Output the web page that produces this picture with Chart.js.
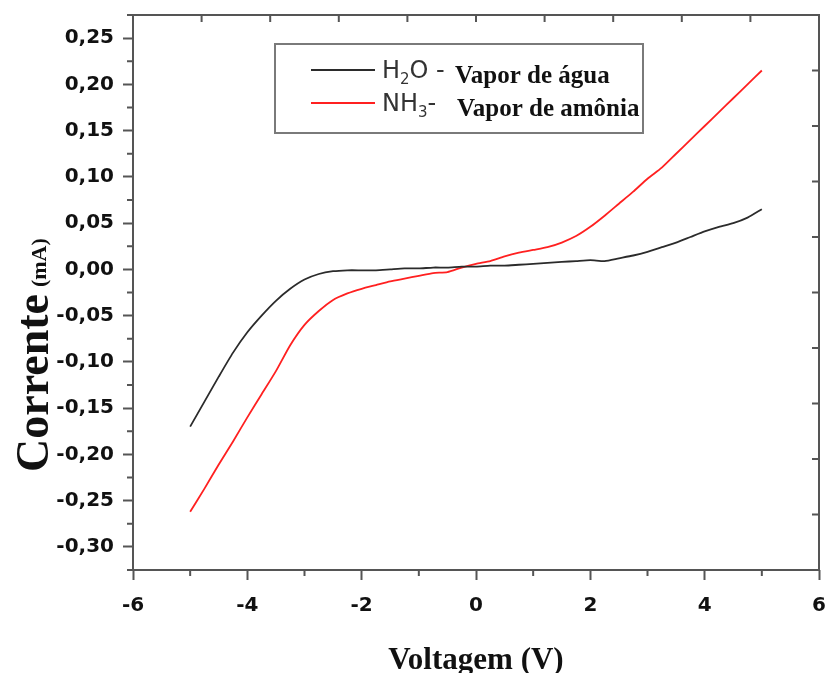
<!DOCTYPE html>
<html lang="pt-BR">
<head>
<meta charset="UTF-8">
<title>Corrente x Voltagem</title>
<script src="https://cdn.jsdelivr.net/npm/chart.js@4.4.1/dist/chart.umd.min.js"></script>
<style>
    html, body { margin: 0; padding: 0; background: #fff; overflow: hidden; }
    .chart-container { position: relative; width: 829px; height: 673px; }
    canvas { display: block; }
</style>
</head>
<body>
<div class="chart-container"><canvas id="ivChart"></canvas></div>
<script>
// voltage steps (V) shared by both curves
const voltage = [-5, -4.75, -4.5, -4.25, -4, -3.75, -3.5, -3.25, -3, -2.75, -2.5, -2.25, -2, -1.75, -1.5, -1.25, -1, -0.75, -0.5, -0.25,
    0, 0.25, 0.5, 0.75, 1, 1.25, 1.5, 1.75, 2, 2.25, 2.5, 2.75, 3, 3.25, 3.5, 3.75, 4, 4.25, 4.5, 4.75, 5];

// current (mA), H2O vapour
const h2oCurrent = [-0.170, -0.143, -0.116, -0.090, -0.068, -0.050, -0.034, -0.021, -0.011, -0.005, -0.002, -0.001, -0.001, -0.001, 0.000, 0.001, 0.001, 0.002, 0.002, 0.003,
    0.003, 0.004, 0.004, 0.005, 0.006, 0.007, 0.008, 0.009, 0.010, 0.009, 0.012, 0.015, 0.019, 0.024, 0.029, 0.035, 0.041, 0.046, 0.050, 0.056, 0.065];

// current (mA), NH3 vapour
const nh3Current = [-0.262, -0.237, -0.211, -0.186, -0.160, -0.135, -0.110, -0.082, -0.060, -0.045, -0.033, -0.026, -0.021, -0.017, -0.013, -0.010, -0.007, -0.004, -0.003, 0.002,
    0.006, 0.009, 0.014, 0.018, 0.021, 0.024, 0.029, 0.036, 0.046, 0.058, 0.071, 0.084, 0.098, 0.110, 0.125, 0.140, 0.155, 0.170, 0.185, 0.200, 0.215];

const xTicks = [-6, -4, -2, 0, 2, 4, 6];
const xMinorTicks = [-5, -3, -1, 1, 3, 5];
const yTicks = [-0.30, -0.25, -0.20, -0.15, -0.10, -0.05, 0.00, 0.05, 0.10, 0.15, 0.20, 0.25];
const yMinorTicks = [-0.325, -0.275, -0.225, -0.175, -0.125, -0.075, -0.025, 0.025, 0.075, 0.125, 0.175, 0.225, 0.275];
// mirrored axes (top / right) carry their own ticks
const topTicks = [-4.8, -3.6, -2.4, -1.2, 0, 1.2, 2.4, 3.6, 4.8];
const rightTicks = [-0.265, -0.205, -0.145, -0.085, -0.025, 0.035, 0.095, 0.155, 0.215];

const AXIS_COLOR = '#555';
const TEXT_COLOR = '#111';
const tickFont = { family: '"DejaVu Sans"', size: 20, weight: 'bold' };

function toPoints(ys) {
    return voltage.map((v, i) => ({ x: v, y: ys[i] }));
}

// frame, minor ticks and mirrored ticks
const framePlugin = {
    id: 'frame',
    afterDraw(chart) {
        const { ctx, chartArea: a, scales } = chart;
        const x = scales.x, y = scales.y;
        ctx.save();
        ctx.strokeStyle = AXIS_COLOR;
        ctx.lineWidth = 2;
        ctx.strokeRect(a.left, a.top, a.right - a.left, a.bottom - a.top);
        ctx.beginPath();
        xMinorTicks.forEach(v => {
            const px = x.getPixelForValue(v);
            ctx.moveTo(px, a.bottom); ctx.lineTo(px, a.bottom + 6);
        });
        yMinorTicks.forEach(v => {
            const py = y.getPixelForValue(v);
            ctx.moveTo(a.left, py); ctx.lineTo(a.left - 6, py);
        });
        topTicks.forEach(v => {
            const px = x.getPixelForValue(v);
            ctx.moveTo(px, a.top); ctx.lineTo(px, a.top + 7);
        });
        rightTicks.forEach(v => {
            const py = y.getPixelForValue(v);
            ctx.moveTo(a.right, py); ctx.lineTo(a.right - 7, py);
        });
        ctx.stroke();
        ctx.restore();
    }
};

// y title with two font sizes: "Corrente (mA)"
const yTitlePlugin = {
    id: 'yTitle',
    afterDraw(chart) {
        const ctx = chart.ctx;
        ctx.save();
        ctx.fillStyle = TEXT_COLOR;
        ctx.translate(48, 472);
        ctx.rotate(-Math.PI / 2);
        ctx.textAlign = 'left';
        ctx.textBaseline = 'alphabetic';
        ctx.font = 'bold 46px "Liberation Serif"';
        ctx.fillText('Corrente', 0, 0);
        const w = ctx.measureText('Corrente').width;
        ctx.font = 'bold 22px "Liberation Serif"';
        ctx.fillText('(mA)', w + 7, -2);
        ctx.restore();
    }
};

// boxed legend with chemical formulas (subscripts)
const legendPlugin = {
    id: 'formulaLegend',
    afterDraw(chart) {
        const ctx = chart.ctx;
        const sets = chart.data.datasets;
        const rows = [
            { base: 'H', sub: '2', rest: 'O -', name: 'Vapor de água', y: 70, tx: 455 },
            { base: 'NH', sub: '3', rest: '-', name: 'Vapor de amônia', y: 103, tx: 457 }
        ];
        ctx.save();
        ctx.fillStyle = '#fff';
        ctx.fillRect(275, 44, 368, 89);
        ctx.strokeStyle = '#7a7a7a';
        ctx.lineWidth = 2;
        ctx.strokeRect(275, 44, 368, 89);
        rows.forEach((r, i) => {
            ctx.strokeStyle = sets[i].borderColor;
            ctx.lineWidth = 2;
            ctx.beginPath();
            ctx.moveTo(311, r.y); ctx.lineTo(375, r.y);
            ctx.stroke();

            let cx = 382;
            const base = r.y + 8;
            ctx.fillStyle = '#333';
            ctx.textBaseline = 'alphabetic';
            ctx.textAlign = 'left';
            ctx.font = '24px "DejaVu Sans"';
            ctx.fillText(r.base, cx, base);
            cx += ctx.measureText(r.base).width;
            ctx.font = '15px "DejaVu Sans"';
            ctx.fillText(r.sub, cx, base + 6);
            cx += ctx.measureText(r.sub).width;
            ctx.font = '24px "DejaVu Sans"';
            ctx.fillText(r.rest, cx, base);

            ctx.fillStyle = TEXT_COLOR;
            ctx.font = 'bold 25px "Liberation Serif"';
            ctx.fillText(r.name, r.tx, r.y + 13);
        });
        ctx.restore();
    }
};

const ctx = document.getElementById('ivChart').getContext('2d');
new Chart(ctx, {
    type: 'line',
    data: {
        datasets: [
            {
                label: 'H2O - Vapor de água',
                data: toPoints(h2oCurrent),
                borderColor: '#2b2b2b',
                borderWidth: 1.8,
                pointRadius: 0,
                tension: 0.2
            },
            {
                label: 'NH3- Vapor de amônia',
                data: toPoints(nh3Current),
                borderColor: '#ff2020',
                borderWidth: 1.8,
                pointRadius: 0,
                tension: 0.2
            }
        ]
    },
    options: {
        responsive: true,
        maintainAspectRatio: false,
        animation: false,
        layout: { padding: { top: 15, right: 10, left: 0, bottom: 0 } },
        plugins: {
            legend: { display: false },
            tooltip: { enabled: false }
        },
        scales: {
            x: {
                type: 'linear',
                min: -6,
                max: 6,
                afterBuildTicks: scale => { scale.ticks = xTicks.map(v => ({ value: v })); },
                afterFit: scale => {
                    scale.height = 103;
                    scale.paddingLeft = 0;
                    scale.paddingRight = 0;
                },
                border: { display: false },
                grid: { drawOnChartArea: false, tickLength: 10, tickColor: AXIS_COLOR, tickWidth: 2 },
                ticks: { color: TEXT_COLOR, font: tickFont, padding: 14, maxRotation: 0 },
                title: {
                    display: true,
                    text: 'Voltagem (V)',
                    color: TEXT_COLOR,
                    font: { family: '"Liberation Serif"', size: 31, weight: 'bold', lineHeight: 0.75 },
                    padding: { top: 0, bottom: 0 }
                }
            },
            y: {
                type: 'linear',
                min: -0.325,
                max: 0.275,
                afterBuildTicks: scale => { scale.ticks = yTicks.map(v => ({ value: v })); },
                afterFit: scale => {
                    scale.width = 133;
                    scale.paddingTop = 0;
                    scale.paddingBottom = 0;
                },
                border: { display: false },
                grid: { drawOnChartArea: false, tickLength: 10, tickColor: AXIS_COLOR, tickWidth: 2 },
                ticks: {
                    color: TEXT_COLOR,
                    font: tickFont,
                    padding: 9,
                    callback: v => v.toFixed(2).replace('.', ',')
                }
            }
        }
    },
    plugins: [framePlugin, yTitlePlugin, legendPlugin]
});
</script>
</body>
</html>
